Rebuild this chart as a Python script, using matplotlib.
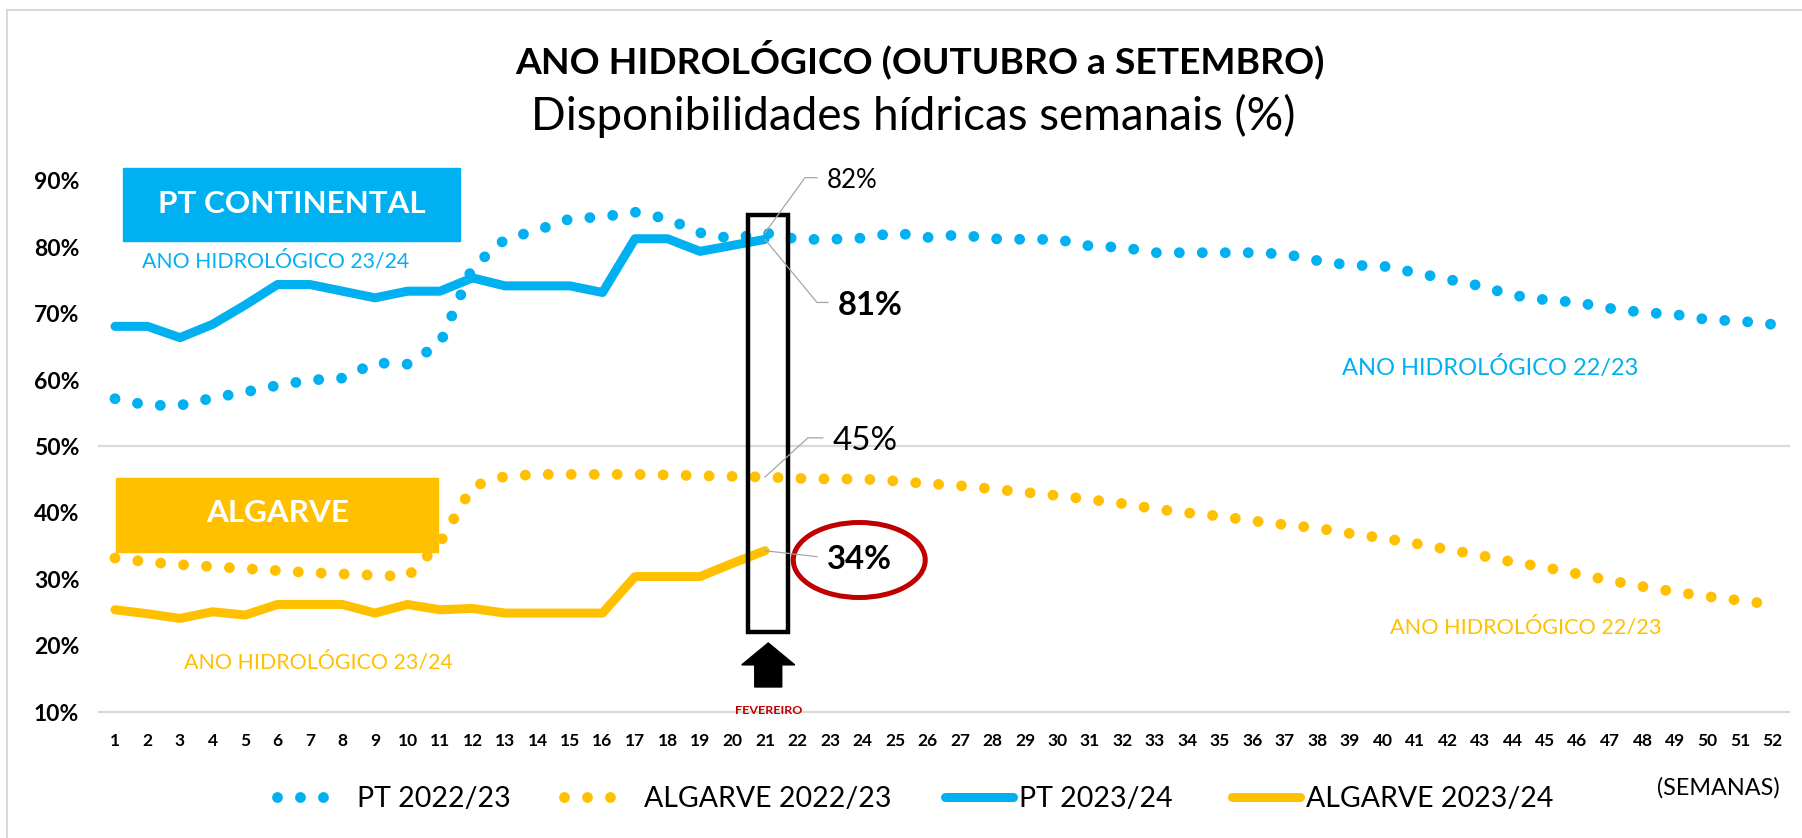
import matplotlib
matplotlib.use('Agg')
import matplotlib.pyplot as plt
from matplotlib.patches import Rectangle, Ellipse, FancyArrow
from matplotlib.lines import Line2D

plt.rcParams['font.family'] = ['Lato', 'DejaVu Sans']

# weekly values (%)
weeks = list(range(1, 53))
pt_2223 = [57.2, 56.2, 56.2, 57.3, 58.2, 59.2, 60.0, 60.3, 62.6, 62.4,
           65.5, 77.0, 81.2, 82.6, 84.3, 84.6, 85.3, 84.3, 82.2, 81.3,
           82.2, 81.2, 81.2, 81.4, 82.2, 81.5, 81.9, 81.3, 81.2, 81.2,
           80.2, 80.0, 79.2, 79.2, 79.2, 79.2, 79.0, 78.0, 77.3, 77.2,
           76.2, 75.2, 74.2, 72.8, 72.1, 71.7, 70.8, 70.2, 69.9, 69.1,
           68.9, 68.4]
alg_2223 = [33.2, 32.6, 32.2, 31.9, 31.6, 31.3, 31.0, 30.8, 30.6, 30.4,
            35.5, 44.0, 45.5, 45.8, 45.8, 45.8, 45.8, 45.7, 45.6, 45.5,
            45.4, 45.2, 45.1, 45.1, 44.8, 44.4, 44.1, 43.6, 43.1, 42.6,
            42.0, 41.4, 40.6, 40.0, 39.5, 38.8, 38.2, 37.7, 36.9, 36.2,
            35.4, 34.5, 33.6, 32.6, 31.8, 30.8, 29.8, 28.9, 28.1, 27.4,
            26.8, 26.2]
weeks_2324 = list(range(1, 22))
pt_2324 = [68.1, 68.1, 66.4, 68.4, 71.3, 74.4, 74.4, 73.4, 72.4, 73.4,
           73.4, 75.4, 74.2, 74.2, 74.2, 73.2, 81.3, 81.3, 79.4, 80.3,
           81.2]
alg_2324 = [25.4, 24.8, 24.1, 25.1, 24.6, 26.2, 26.2, 26.2, 24.9, 26.2,
            25.4, 25.6, 24.9, 24.9, 24.9, 24.9, 30.4, 30.4, 30.4, 32.4,
            34.3]
y_ticks = [10, 20, 30, 40, 50, 60, 70, 80, 90]
current_week = 21

BLUE = '#00B0F0'
YELLOW = '#FFC000'
RED = '#C00000'
GRID = '#D9D9D9'
LEADER = '#A6A6A6'

W, H = 1802, 838
fig = plt.figure(figsize=(W / 100, H / 100), dpi=100)
ax = fig.add_axes([98.75 / W, 126 / H, 1690 / W, 531 / H])
renderer = fig.canvas.get_renderer()


def size_for(text, target_px, **kw):
    """font size (pt) that makes text about target_px wide"""
    t = fig.text(0, 0, text, fontsize=20, **kw)
    w = t.get_window_extent(renderer).width
    t.remove()
    return 20 * target_px / w


dotted = (0, (0.001, 2.12))
l1, = ax.plot(weeks, pt_2223, color=BLUE, lw=7.8, linestyle=dotted,
              dash_capstyle='round', label='PT 2022/23', zorder=2)
l2, = ax.plot(weeks, alg_2223, color=YELLOW, lw=7.8, linestyle=dotted,
              dash_capstyle='round', label='ALGARVE 2022/23', zorder=2)
l3, = ax.plot(weeks_2324, pt_2324, color=BLUE, lw=6.5, solid_capstyle='round',
              solid_joinstyle='round', label='PT 2023/24', zorder=3)
l4, = ax.plot(weeks_2324, alg_2324, color=YELLOW, lw=6.5, solid_capstyle='round',
              solid_joinstyle='round', label='ALGARVE 2023/24', zorder=3)

ax.set_xlim(0.5, 52.5)
ax.set_ylim(10, 90)
ax.set_xticks(weeks)
ax.set_xticklabels([str(w) for w in weeks], fontweight='bold', fontsize=12.5)
ax.set_yticks(y_ticks)
ax.set_yticklabels([f'{v}%' for v in y_ticks], fontweight='bold', fontsize=16.5)
ax.tick_params(axis='x', length=0, pad=15)
ax.tick_params(axis='y', length=0, pad=14)
for s in ax.spines.values():
    s.set_visible(False)
for g in (10, 50):
    ax.axhline(g, color=GRID, lw=1.6, zorder=0, clip_on=False)

# region boxes
ax.add_patch(Rectangle((1.25, 81.0), 10.35, 10.9, color=BLUE, zorder=5, clip_on=False))
ax.text(6.45, 86.6, 'PT CONTINENTAL', color='white', fontweight='bold',
        ha='center', va='center', zorder=6,
        fontsize=size_for('PT CONTINENTAL', 268, fontweight='bold'))
ax.add_patch(Rectangle((1.03, 34.1), 9.91, 11.2, color=YELLOW, zorder=5))
ax.text(6.02, 40.0, 'ALGARVE', color='white', fontweight='bold',
        ha='center', va='center', zorder=6,
        fontsize=size_for('ALGARVE', 143, fontweight='bold'))

# series captions
for txt, x, y, c, w in [('ANO HIDROLÓGICO 23/24', 5.95, 77.9, BLUE, 266),
                        ('ANO HIDROLÓGICO 22/23', 43.3, 61.9, BLUE, 295),
                        ('ANO HIDROLÓGICO 23/24', 7.25, 17.5, YELLOW, 267),
                        ('ANO HIDROLÓGICO 22/23', 44.4, 22.8, YELLOW, 270)]:
    ax.text(x, y, txt, color=c, ha='center', va='center', fontsize=size_for(txt, w))

# highlight of current week
i = current_week - 1
ax.add_patch(Rectangle((20.48, 22.07), 1.23, 62.78, fill=False, ec='black',
                       lw=3.2, zorder=7))
ax.add_patch(FancyArrow(21.1, 13.77, 0, 6.63, width=0.83, head_width=1.63,
                        head_length=3.3, length_includes_head=True,
                        color='black', zorder=7))
ax.text(21.1, 10.3, 'FEVEREIRO', color=RED, fontweight='bold', ha='center',
        va='center', fontsize=size_for('FEVEREIRO', 67, fontweight='bold'), zorder=8)
ax.add_patch(Ellipse((23.9, 32.9), 4.06, 11.3, fill=False, ec=RED, lw=3.6, zorder=7))

# data labels with leader lines
labels = [(pt_2223[i], 22.23, 22.6, 90.5, 'normal', 51),
          (pt_2324[i], 22.6, 22.94, 71.7, 'bold', 65),
          (alg_2223[i], 22.32, 22.78, 51.3, 'normal', 65),
          (alg_2324[i], 22.6, 22.6, 33.4, 'bold', 65)]
for val, xk, xe, yl, wt, w in labels:
    ax.plot([current_week, xk, xe], [val, yl, yl], color=LEADER, lw=0.9, zorder=8,
            clip_on=False)
    s = f'{round(val)}%'
    ax.text(xe + 0.3, yl - 0.4, s, ha='left', va='center', fontweight=wt,
            fontsize=size_for(s, w, fontweight=wt), zorder=8)

# titles
fig.text(920 / W, 1 - 73 / H, 'ANO HIDROLÓGICO (OUTUBRO a SETEMBRO)', ha='center',
         va='baseline', fontweight='bold',
         fontsize=size_for('ANO HIDROLÓGICO (OUTUBRO a SETEMBRO)', 810, fontweight='bold'))
fig.text(913 / W, 1 - 130 / H, 'Disponibilidades hídricas semanais (%)', ha='center',
         va='baseline',
         fontsize=size_for('Disponibilidades hídricas semanais (%)', 765))
fig.text(1780 / W, 1 - 788 / H, '(SEMANAS)', ha='right', va='center',
         fontsize=size_for('(SEMANAS)', 122))

# legend: one entry per legend so the spacing can follow the original
leg_fs = size_for('ALGARVE 2023/24', 246)
fs_px = leg_fs * 100 / 72
for line, x0, length, pad in [(l1, 277, 47, 33), (l2, 564, 47, 33),
                              (l3, 945, 68, 6), (l4, 1232, 68, 6)]:
    fig.legend([line], [line.get_label()], loc='center left',
               bbox_to_anchor=(x0 / W, 1 - 799 / H), frameon=False,
               fontsize=leg_fs, handlelength=length / fs_px,
               handletextpad=pad / fs_px, borderpad=0, borderaxespad=0)

# chart area border (top and left only visible)
fig.add_artist(Line2D([7 / W, 1], [1 - 10 / H] * 2, transform=fig.transFigure,
                      color=GRID, lw=1.5))
fig.add_artist(Line2D([7 / W] * 2, [0, 1 - 10 / H], transform=fig.transFigure,
                      color=GRID, lw=1.5))

fig.savefig('out.png', dpi=100)
